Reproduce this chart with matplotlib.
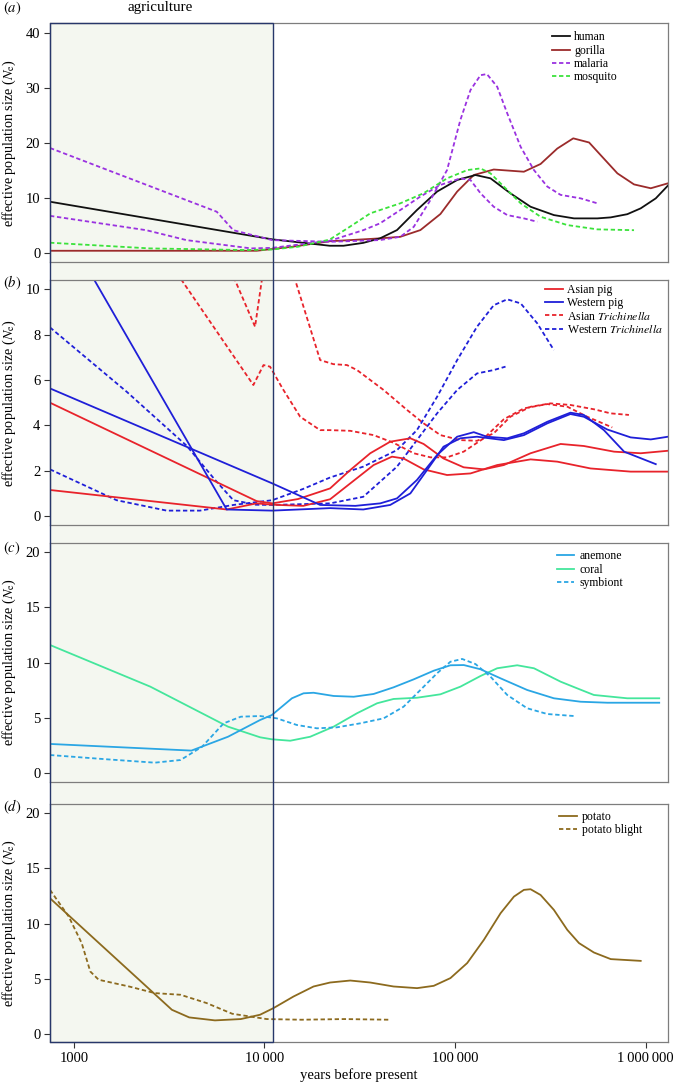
import numpy as np
import matplotlib.pyplot as plt
from matplotlib.patches import Rectangle
from matplotlib.transforms import blended_transform_factory
from matplotlib.lines import Line2D

plt.rcParams['font.family'] = ['Liberation Serif', 'DejaVu Serif']
plt.rcParams['mathtext.fontset'] = 'stix'

# ---- panel (a): humans, gorilla, malaria, mosquito
human_x = [750, 11000, 22000, 26000, 33000, 40400, 49600, 63100, 80500, 102600, 128000,
           153500, 195000, 249000, 330000, 421000, 558000, 655000, 801000, 942000, 1130000, 1310000]
human_y = [9.36, 2.54, 1.38, 1.38, 1.9, 2.72, 4.22, 7.85, 11.2, 13.3, 14.2,
           13.6, 10.9, 8.45, 6.94, 6.34, 6.34, 6.52, 7.1, 8.16, 9.97, 12.3]

gorilla_x = [750, 9100, 14000, 22100, 33000, 40400, 51600, 65800, 83800, 102600, 125400,
             159600, 229700, 281000, 343800, 417000, 505000, 581000, 711000, 869000, 1064000, 1310000]
gorilla_y = [0.47, 0.47, 1.2, 2.2, 2.54, 2.72, 3.0, 4.22, 7.13, 11.2, 14.2,
             15.2, 14.8, 16.2, 19.0, 20.85, 20.1, 17.8, 14.5, 12.5, 11.8, 12.7]

malaria1_x = [750, 5620, 6870, 11000, 22100, 33000, 40400, 51600, 60700, 74300, 90800,
              106700, 120500, 136000, 147000, 166400, 187800, 221000, 259400, 305000, 358000,
              456000, 558000]
malaria1_y = [19.1, 7.55, 4.2, 2.4, 2.1, 2.3, 2.41, 3.0, 4.8, 9.67, 15.1,
              24.2, 29.6, 32.3, 32.5, 30.2, 25.4, 19.3, 15.1, 12.1, 10.6,
              9.97, 9.07]

malaria2_x = [750, 2400, 3900, 8500, 11000, 22100, 33000, 40400, 51600, 65800, 83800,
              106700, 120500, 136000, 159600, 187800, 229700, 270000]
malaria2_y = [6.8, 4.2, 2.4, 0.9, 1.0, 2.3, 4.2, 5.44, 7.85, 10.3, 12.4,
              13.6, 13.3, 10.9, 8.45, 6.94, 6.34, 5.73]

mosquito_x = [750, 2500, 8000, 11000, 15000, 22000, 28000, 35900, 40400, 51600, 68400,
              90800, 116000, 136000, 153500, 180300, 221000, 281000, 388000, 558000, 869000]
mosquito_y = [1.93, 0.9, 0.6, 0.7, 1.2, 2.5, 4.8, 7.25, 7.85, 9.07, 10.9,
              13.6, 15.1, 15.4, 14.5, 12.1, 9.07, 6.64, 5.13, 4.35, 4.2]

# ---- panel (b): pigs and Trichinella
asian_pig1_x = [750, 9100, 11000, 15000, 22100, 28200, 35900, 45700, 58300, 68400, 87000,
                111000, 141600, 180300, 249000, 358000, 474000, 683000, 942000, 1310000]
asian_pig1_y = [5.0, 0.66, 0.56, 0.75, 1.22, 2.03, 2.77, 3.28, 3.43, 3.18, 2.54,
                2.15, 2.06, 2.25, 2.77, 3.18, 3.09, 2.84, 2.77, 2.88]

asian_pig2_x = [750, 6340, 9100, 11000, 16000, 22100, 28200, 37400, 46700, 53700, 68400,
                90800, 120500, 166400, 249000, 343800, 514000, 834000, 1310000]
asian_pig2_y = [1.15, 0.29, 0.56, 0.5, 0.45, 0.74, 1.44, 2.25, 2.62, 2.54, 2.06,
                1.81, 1.88, 2.25, 2.5, 2.4, 2.1, 1.96, 1.96]

western_pig1_x = [750, 11000, 19600, 30000, 40500, 49600, 63100, 80500, 102600, 125400,
                  147000, 187800, 229700, 305000, 403000, 474000, 604000, 771000, 1130000]
western_pig1_y = [5.63, 1.44, 0.49, 0.45, 0.56, 0.78, 1.59, 2.69, 3.5, 3.7,
                  3.5, 3.43, 3.65, 4.16, 4.56, 4.46, 3.79, 2.84, 2.29]

western_pig2_x = [750, 6340, 11000, 22100, 33000, 45700, 58300, 71300, 87000, 106700,
                  130400, 180300, 229700, 305000, 403000, 474000, 628000, 834000, 1064000, 1310000]
western_pig2_y = [13.8, 0.29, 0.24, 0.35, 0.29, 0.49, 1.0, 2.03, 3.06, 3.43,
                  3.5, 3.35, 3.57, 4.09, 4.5, 4.38, 3.82, 3.47, 3.38, 3.5]

trich_asian1_x = [750, 8750, 9890, 10700, 12500, 15400, 19600, 22100, 28200, 37400, 47600,
                  60700, 74300, 90800, 111000, 141600, 180300, 229700, 305000, 389000, 494000, 668000]
trich_asian1_y = [18.9, 5.78, 6.66, 6.59, 5.6, 4.38, 3.79, 3.79, 3.76, 3.57, 3.23,
                  2.77, 2.59, 2.59, 2.84, 3.43, 4.27, 4.75, 4.94, 4.82, 4.38, 3.91]

trich_asian2_x = [750, 8930, 11000, 14500, 19600, 23000, 27100, 30600, 42200, 56000, 68400,
                  83800, 106700, 130400, 159600, 195000, 249000, 317000, 403000, 535000, 655000, 817000]
trich_asian2_y = [29.4, 8.35, 13.6, 10.41, 6.88, 6.7, 6.66, 6.44, 5.56, 4.68, 4.09,
                  3.57, 3.35, 3.32, 3.65, 4.38, 4.82, 4.97, 4.9, 4.71, 4.53, 4.46]

trich_western1_x = [750, 1675, 3070, 4590, 6870, 11000, 16000, 22100, 33000, 49600, 63100,
                    80500, 102600, 130400, 159600, 187800, 221000, 270000, 330000]
trich_western1_y = [2.06, 0.7, 0.24, 0.24, 0.49, 0.7, 1.2, 1.7, 2.18, 2.91, 3.79,
                    5.26, 6.88, 8.35, 9.3, 9.56, 9.38, 8.5, 7.32]

trich_western2_x = [750, 1890, 3910, 5500, 6870, 9000, 11000, 22100, 33000, 49600, 63100,
                    80500, 102600, 130400, 159600, 184000]
trich_western2_y = [8.32, 5.49, 3.1, 1.6, 0.7, 0.5, 0.49, 0.56, 0.85, 2.18, 3.35,
                    4.53, 5.56, 6.29, 6.44, 6.59]

# ---- panel (c): anemone, coral, symbiont
anemone_x = [750, 4140, 6440, 9490, 10940, 13940, 16040, 18100, 23070, 29400, 37400,
             47600, 60700, 77300, 94600, 111200, 136000, 173400, 239000, 330000, 456000,
             630000, 1178000]
anemone_y = [2.65, 2.05, 3.3, 4.81, 5.26, 6.77, 7.22, 7.27, 6.98, 6.91, 7.16,
             7.76, 8.48, 9.26, 9.75, 9.77, 9.39, 8.57, 7.52, 6.77, 6.46,
             6.37, 6.37]

coral_x = [750, 2520, 6440, 9490, 10940, 13650, 17380, 23070, 30600, 39000, 47600,
           63200, 83800, 106700, 136000, 166400, 211900, 259400, 358000, 437000, 535000,
           801000, 1178000]
coral_y = [11.58, 7.82, 4.21, 3.25, 3.07, 2.94, 3.3, 4.21, 5.42, 6.32, 6.71,
           6.82, 7.13, 7.82, 8.78, 9.48, 9.75, 9.48, 8.27, 7.67, 7.07,
           6.77, 6.77]

symbiont_x = [750, 1500, 2660, 3630, 4710, 6110, 7520, 9490, 11620, 14800, 18850,
              24000, 31800, 42200, 53700, 65800, 80500, 94600, 109000, 128000, 153500,
              187800, 239000, 305000, 421000]
symbiont_y = [1.65, 1.26, 0.96, 1.2, 2.4, 4.51, 5.11, 5.17, 4.96, 4.36, 4.06,
              4.15, 4.51, 4.96, 6.01, 7.52, 9.03, 10.07, 10.32, 9.86, 8.72,
              7.07, 5.87, 5.35, 5.17]

# ---- panel (d): potato and potato blight
potato_x = [750, 3270, 4030, 5500, 7520, 9480, 11150, 14200, 18100, 22100, 28200,
            35900, 47600, 63200, 77300, 94600, 115800, 141600, 173400, 203700, 229700,
            249000, 281000, 330000, 388000, 447000, 535000, 656000, 942000]
potato_y = [12.3, 2.2, 1.51, 1.24, 1.36, 1.75, 2.35, 3.4, 4.31, 4.67, 4.85,
            4.67, 4.31, 4.16, 4.37, 5.07, 6.43, 8.53, 10.95, 12.45, 13.06,
            13.12, 12.6, 11.25, 9.44, 8.24, 7.39, 6.79, 6.63]

blight_x = [750, 940, 1100, 1220, 1350, 1950, 2660, 3630, 4970, 6780, 10280,
            15600, 26200, 45300]
blight_y = [13.06, 10.65, 8.24, 5.67, 4.92, 4.31, 3.71, 3.56, 2.81, 1.84, 1.36,
            1.30, 1.36, 1.30]

xmin, xmax = 750, 1310000
agri_end = 11150

RED = '#e8232b'
BLUE = '#1f1fd8'
DASH = (2.4, 1.5)
LW = 1.3

fig = plt.figure(figsize=(6.74, 10.85), dpi=100)
L, W = 50 / 674, 618 / 674
ax_a = fig.add_axes([L, 0.7582, W, 0.2203])
ax_b = fig.add_axes([L, 0.5158, W, 0.2261])
ax_c = fig.add_axes([L, 0.2790, W, 0.2208])
ax_d = fig.add_axes([L, 0.0393, W, 0.2194])
axes = [ax_a, ax_b, ax_c, ax_d]


def line(ax, x, y, color, dashed=False):
    ls = (0, DASH) if dashed else '-'
    ax.plot(x, y, color=color, linestyle=ls, lw=LW)


line(ax_a, gorilla_x, gorilla_y, '#9b2b2b')
line(ax_a, human_x, human_y, '#111111')
line(ax_a, malaria1_x, malaria1_y, '#9a32e0', dashed=True)
line(ax_a, malaria2_x, malaria2_y, '#9a32e0', dashed=True)
line(ax_a, mosquito_x, mosquito_y, '#3be23b', dashed=True)

line(ax_b, trich_asian1_x, trich_asian1_y, RED, dashed=True)
line(ax_b, trich_asian2_x, trich_asian2_y, RED, dashed=True)
line(ax_b, trich_western1_x, trich_western1_y, BLUE, dashed=True)
line(ax_b, trich_western2_x, trich_western2_y, BLUE, dashed=True)
line(ax_b, asian_pig1_x, asian_pig1_y, RED)
line(ax_b, asian_pig2_x, asian_pig2_y, RED)
line(ax_b, western_pig1_x, western_pig1_y, BLUE)
line(ax_b, western_pig2_x, western_pig2_y, BLUE)

line(ax_c, coral_x, coral_y, '#44e69c')
line(ax_c, anemone_x, anemone_y, '#2aa6e4')
line(ax_c, symbiont_x, symbiont_y, '#2aa6e4', dashed=True)

line(ax_d, potato_x, potato_y, '#8c6a1e')
line(ax_d, blight_x, blight_y, '#8c6a1e', dashed=True)

ylims = [(-1.63, 41.7), (-0.41, 10.41), (-0.81, 20.81), (-0.75, 20.81)]
yticks = [[0, 10, 20, 30, 40], [0, 2, 4, 6, 8, 10], [0, 5, 10, 15, 20], [0, 5, 10, 15, 20]]
for ax, yl, yt in zip(axes, ylims, yticks):
    ax.set_xscale('log')
    ax.set_xlim(xmin, xmax)
    ax.set_ylim(*yl)
    ax.set_yticks(yt)
    ax.set_facecolor('none')
    ax.minorticks_off()
    ax.tick_params(axis='y', direction='out', length=4, width=0.8, labelsize=10.5,
                   pad=3, color='#333333')
    ax.tick_params(axis='x', bottom=False, labelbottom=False)
    for s in ax.spines.values():
        s.set_color('#7d7d7d')
        s.set_linewidth(0.9)
    ax.set_ylabel(r'effective population size ($N_\mathrm{e}$)', fontsize=10.2)
    ax.yaxis.set_label_coords(-0.051, 0.5)

# panel letters
for lab, ypix in zip('abcd', [8, 283, 548, 807]):
    fig.text(0.004, 1 - ypix / 1085, r'$(\mathit{%s})$' % lab, fontsize=10.5, va='center')

fig.text(160 / 674, 1 - 8 / 1085, 'agriculture', fontsize=10.8, ha='center', va='center')

# x axis only on the bottom panel
ax_d.set_xticks([1000, 10000, 100000, 1000000])
ax_d.set_xticklabels(['1000', '10\u2009000', '100\u2009000', '1\u2009000\u2009000'])
ax_d.tick_params(axis='x', bottom=True, labelbottom=True, direction='out', length=4,
                 width=0.8, labelsize=10.5, pad=3, color='#333333')
ax_d.set_xlabel('years before present', fontsize=10.5, labelpad=2)

# legends
leg_kw = dict(frameon=False, fontsize=8.5, loc='upper left', borderpad=0,
              handlelength=1.5, handletextpad=0.4, labelspacing=0.12, borderaxespad=0)


def handle(color, dashed=False):
    return Line2D([], [], color=color, lw=LW, linestyle=(0, DASH) if dashed else '-')


ax_a.legend([handle('#111111'), handle('#9b2b2b'), handle('#9a32e0', True),
             handle('#3be23b', True)],
            ['human', 'gorilla', 'malaria', 'mosquito'],
            bbox_to_anchor=(0.812, 0.967), **leg_kw)
ax_b.legend([handle(RED), handle(BLUE), handle(RED, True), handle(BLUE, True)],
            ['Asian pig', 'Western pig', r'Asian $\mathit{Trichinella}$',
             r'Western $\mathit{Trichinella}$'],
            bbox_to_anchor=(0.801, 0.985), **leg_kw)
ax_c.legend([handle('#2aa6e4'), handle('#44e69c'), handle('#2aa6e4', True)],
            ['anemone', 'coral', 'symbiont'],
            bbox_to_anchor=(0.82, 0.968), **leg_kw)
ax_d.legend([handle('#8c6a1e'), handle('#8c6a1e', True)],
            ['potato', 'potato blight'],
            bbox_to_anchor=(0.824, 0.972), **leg_kw)

# agriculture box spanning all panels
top = 0.7582 + 0.2203
bot = 0.0393
tr = blended_transform_factory(ax_d.transData, fig.transFigure)
fig.add_artist(Rectangle((xmin, bot), agri_end - xmin, top - bot, transform=tr,
                         facecolor='#f4f7f0', edgecolor='none', zorder=-1))
fig.add_artist(Rectangle((xmin, bot), agri_end - xmin, top - bot, transform=tr,
                         facecolor='none', edgecolor='#27376a', lw=1.0, zorder=3))

fig.savefig('out.png', dpi=100)
